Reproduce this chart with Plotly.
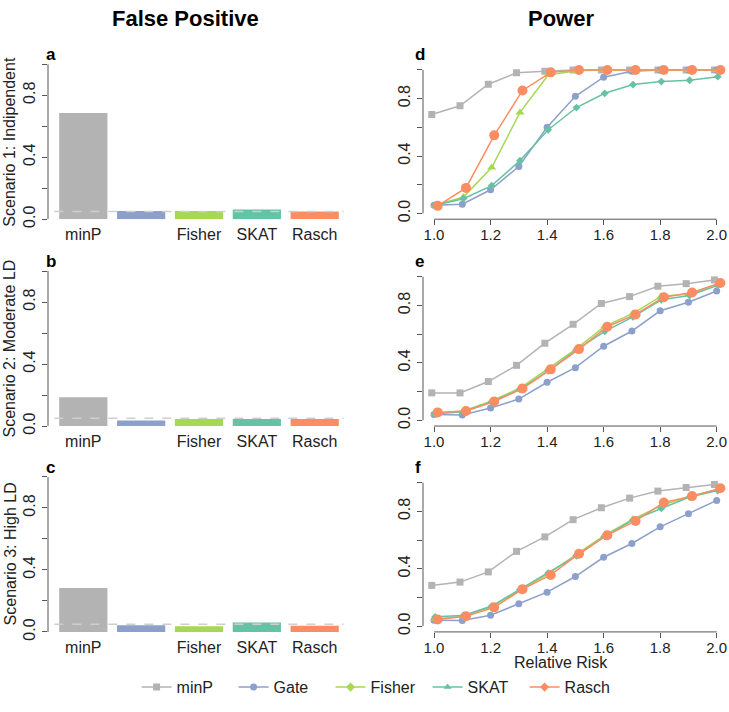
import plotly.graph_objects as go

# ---------------- data ----------------
methods = ["minP", "Gate", "Fisher", "SKAT", "Rasch"]
bar_tick_labels = ["minP", "", "Fisher", "SKAT", "Rasch"]
scenarios = ["Scenario 1: Indipendent", "Scenario 2: Moderate LD", "Scenario 3: High LD"]
fp_letters = ["a", "b", "c"]
pw_letters = ["d", "e", "f"]
alpha = 0.05

# false positive rates (one list per scenario, ordered as methods)
fp_s1 = [0.685, 0.053, 0.053, 0.062, 0.049]
fp_s2 = [0.185, 0.036, 0.045, 0.045, 0.045]
fp_s3 = [0.284, 0.043, 0.036, 0.060, 0.040]

relative_risk = [1.0, 1.1, 1.2, 1.3, 1.4, 1.5, 1.6, 1.7, 1.8, 1.9, 2.0]

# power, scenario 1
s1_minP = [0.69, 0.75, 0.90, 0.98, 0.99, 1.0, 1.0, 1.0, 1.0, 1.0, 1.0]
s1_gate = [0.057, 0.064, 0.165, 0.327, 0.60, 0.816, 0.949, 0.99, 1.0, 1.0, 1.0]
s1_fisher = [0.057, 0.114, 0.32, 0.704, 0.965, 0.994, 1.0, 1.0, 1.0, 1.0, 1.0]
s1_skat = [0.057, 0.103, 0.194, 0.368, 0.583, 0.738, 0.837, 0.898, 0.919, 0.928, 0.953]
s1_rasch = [0.053, 0.178, 0.544, 0.857, 0.983, 1.0, 1.0, 1.0, 1.0, 1.0, 1.0]

# power, scenario 2
s2_minP = [0.191, 0.191, 0.27, 0.383, 0.537, 0.669, 0.814, 0.862, 0.934, 0.952, 0.978]
s2_gate = [0.041, 0.037, 0.085, 0.148, 0.265, 0.367, 0.516, 0.622, 0.763, 0.823, 0.901]
s2_fisher = [0.05, 0.065, 0.135, 0.225, 0.36, 0.50, 0.655, 0.745, 0.865, 0.88, 0.95]
s2_skat = [0.045, 0.06, 0.13, 0.215, 0.345, 0.49, 0.62, 0.72, 0.84, 0.87, 0.94]
s2_rasch = [0.055, 0.065, 0.131, 0.221, 0.355, 0.496, 0.652, 0.738, 0.858, 0.89, 0.957]

# power, scenario 3
s3_minP = [0.284, 0.307, 0.378, 0.521, 0.622, 0.742, 0.825, 0.892, 0.941, 0.966, 0.987]
s3_gate = [0.041, 0.039, 0.076, 0.157, 0.237, 0.346, 0.48, 0.576, 0.692, 0.784, 0.876]
s3_fisher = [0.05, 0.07, 0.135, 0.25, 0.365, 0.50, 0.635, 0.745, 0.84, 0.905, 0.95]
s3_skat = [0.065, 0.075, 0.14, 0.255, 0.37, 0.49, 0.625, 0.74, 0.82, 0.90, 0.945]
s3_rasch = [0.046, 0.069, 0.131, 0.258, 0.357, 0.505, 0.634, 0.733, 0.862, 0.906, 0.961]

fp_data = [fp_s1, fp_s2, fp_s3]
power_data = [
    [s1_minP, s1_gate, s1_fisher, s1_skat, s1_rasch],
    [s2_minP, s2_gate, s2_fisher, s2_skat, s2_rasch],
    [s3_minP, s3_gate, s3_fisher, s3_skat, s3_rasch],
]

# ---------------- styling ----------------
colors = ["#B3B3B3", "#8DA0CB", "#A6D854", "#66C2A5", "#FC8D62"]
plot_symbols = ["square", "circle", "triangle-up", "diamond", "circle"]
plot_sizes = [7, 7, 8, 6, 10]
legend_symbols = ["square", "circle", "diamond", "triangle-up", "diamond"]
dodge = [-0.008, 0.0, 0.004, 0.004, 0.013]

FONT = "Liberation Sans, Arial, sans-serif"
INK = "#222222"
AXIS = "#555555"
W, H = 729, 712


def fx(px):
    return px / W


def fy(px):
    return 1 - px / H


def ax_id(letter, i):
    return letter if i == 1 else f"{letter}{i}"


rows_px = [(65, 222), (274.5, 431.5), (483, 640)]
left_px = (48, 350)
right_px = (423, 728)

fig = go.Figure()
layout = {}
shapes = []
annotations = []

ticks_y = [0, 0.2, 0.4, 0.6, 0.8, 1.0]
ticks_y_text = ["0.0", "", "0.4", "", "0.8", ""]
ticks_x = [1.0, 1.2, 1.4, 1.6, 1.8, 2.0]


def note(text, x, y, size=16, angle=0, xanchor="center", color=INK):
    annotations.append(dict(text=text, xref="paper", yref="paper", x=x, y=y,
                            xanchor=xanchor, yanchor="middle", textangle=angle,
                            showarrow=False, font=dict(size=size, color=color)))


def y_axis(ydom, anchor, rng, standoff=1):
    return dict(
        domain=ydom, anchor=anchor, range=rng, tickvals=ticks_y, ticktext=ticks_y_text,
        tickangle=-90, ticks="outside", ticklen=5, tickcolor=AXIS,
        showline=False, showgrid=False, zeroline=False,
        tickfont=dict(size=16, color=INK), ticklabelstandoff=standoff,
    )


for r in range(3):
    top, bot = rows_px[r]
    ydom = [fy(bot), fy(top)]
    li, ri = 2 * r + 1, 2 * r + 2
    lx, ly = ax_id("x", li), ax_id("y", li)
    rx, ry = ax_id("x", ri), ax_id("y", ri)

    # ---- false positive bars ----
    fig.add_trace(go.Bar(
        x=methods, y=fp_data[r], marker=dict(color=colors, line=dict(width=0)),
        xaxis=lx, yaxis=ly, showlegend=False, hoverinfo="x+y",
    ))
    layout[f"xaxis{li}"] = dict(
        domain=[fx(left_px[0]), fx(left_px[1])], anchor=ly, type="category",
        range=[-0.61, 4.61], tickvals=methods, ticktext=bar_tick_labels,
        ticks="", showline=False, showgrid=False, zeroline=False,
        tickfont=dict(size=16, color=INK), ticklabelstandoff=4,
    )
    layout[f"yaxis{li}"] = y_axis(ydom, lx, [0, 1])
    shapes.append(dict(type="line", xref=f"{lx} domain", yref=ly, x0=0, x1=0, y0=0, y1=1,
                       line=dict(color=AXIS, width=1)))
    shapes.append(dict(type="line", xref=lx, yref=ly, x0=-0.5, x1=4.5, y0=alpha, y1=alpha,
                       line=dict(color="#cfcfcf", width=1.5, dash="dash"), layer="above"))

    # ---- power curves ----
    for k, name in enumerate(methods):
        fig.add_trace(go.Scatter(
            x=[v + dodge[k] for v in relative_risk], y=power_data[r][k],
            mode="lines+markers", name=name, xaxis=rx, yaxis=ry, showlegend=False,
            line=dict(color=colors[k], width=1.5),
            marker=dict(symbol=plot_symbols[k], size=plot_sizes[k], color=colors[k]),
        ))
    layout[f"xaxis{ri}"] = dict(
        domain=[fx(right_px[0]), fx(right_px[1])], anchor=ry, range=[0.961, 2.04],
        tickvals=ticks_x, tickformat=".1f", ticks="outside", ticklen=5, tickcolor=AXIS,
        showline=False, showgrid=False, zeroline=False, tickfont=dict(size=15, color=INK),
        ticklabelstandoff=-3,
    )
    layout[f"yaxis{ri}"] = y_axis(ydom, rx, [-0.04, 1.04])
    # R-style axis lines spanning only the tick range
    shapes.append(dict(type="line", xref=rx, yref=f"{ry} domain", x0=1.0, x1=2.0, y0=0, y1=0,
                       line=dict(color=AXIS, width=1)))
    shapes.append(dict(type="line", xref=f"{rx} domain", yref=ry, x0=0, x1=0, y0=0, y1=1,
                       line=dict(color=AXIS, width=1)))

    # panel letters and row titles
    note(f"<b>{fp_letters[r]}</b>", fx(44), fy(top - 10), size=17, xanchor="left", color="#000")
    note(f"<b>{pw_letters[r]}</b>", fx(413), fy(top - 10), size=17, xanchor="left", color="#000")
    note(scenarios[r], fx(10), fy((top + bot) / 2), angle=-90)

# legend-only entries (symbols as shown in the key)
for k, name in enumerate(methods):
    fig.add_trace(go.Scatter(
        x=[None], y=[None], mode="lines+markers", name=name, xaxis="x6", yaxis="y6",
        line=dict(color=colors[k], width=1.5),
        marker=dict(symbol=legend_symbols[k], size=7, color=colors[k]),
    ))

note("<b>False Positive</b>", fx(185), fy(19), size=22, color="#000")
note("<b>Power</b>", fx(561), fy(19), size=22, color="#000")
note("Relative Risk", fx(561), fy(671))

fig.update_layout(
    **layout,
    width=W, height=H,
    margin=dict(l=0, r=0, t=0, b=0),
    paper_bgcolor="white", plot_bgcolor="white",
    font=dict(family=FONT, size=16, color=INK),
    bargap=0.1667,
    shapes=shapes, annotations=annotations,
    legend=dict(orientation="h", x=0.52, xanchor="center", y=fy(696), yanchor="middle",
                font=dict(size=16, color=INK), bgcolor="rgba(0,0,0,0)",
                entrywidth=52, entrywidthmode="pixels"),
)

# the page body has a default 8px margin; drop it so the figure fills the window
fig.write_html("out.html", config={"displayModeBar": False},
               post_script="document.body.style.margin='0';")
